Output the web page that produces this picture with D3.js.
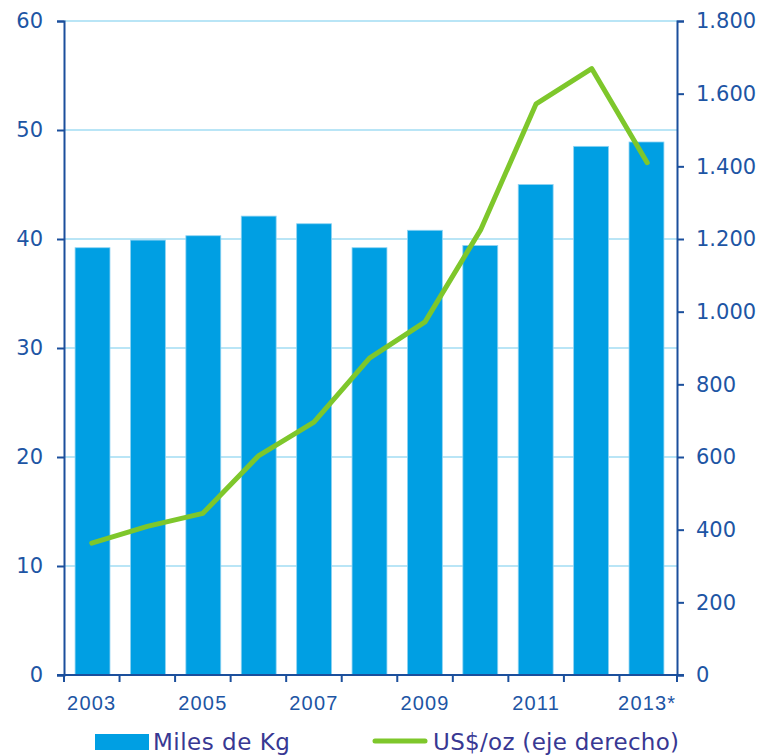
<!DOCTYPE html>
<html>
<head>
<meta charset="utf-8">
<script src="https://cdn.jsdelivr.net/npm/d3@7"></script>
<style>
  html, body { margin: 0; padding: 0; background: #fff; }
  svg { display: block; }
</style>
</head>
<body>
<svg id="chart" width="767" height="756"></svg>
<script>
// Years shown on the x axis (2013 is an estimate)
const years = ["2003", "2004", "2005", "2006", "2007", "2008", "2009", "2010", "2011", "2012", "2013*"];
const yearLabels = ["2003", "2005", "2007", "2009", "2011", "2013*"];
// Production, thousands of kg (left axis)
const production = [39.2, 39.9, 40.3, 42.1, 41.4, 39.2, 40.8, 39.4, 45.0, 48.5, 48.9];
// Price, US$ per ounce (right axis)
const price = [363, 409, 445, 603, 696, 872, 972, 1225, 1572, 1669, 1410];
const leftTicks = [0, 10, 20, 30, 40, 50, 60];
const rightTicks = [0, 200, 400, 600, 800, 1000, 1200, 1400, 1600, 1800];

const svg = d3.select("#chart");
const margin = { left: 64, right: 90, top: 21, bottom: 81 };
const W = 767, H = 756;
const x0 = margin.left, x1 = W - margin.right, yTop = margin.top, yBot = H - margin.bottom;

const axisColor = "#1b4f9c";
const textColor = "#1d55a4";
const barColor = "#009fe3";
const lineColor = "#7ec72b";
const gridColor = "#b9e5f6";

const x = d3.scaleBand().domain(years).range([x0, x1 - 2]).paddingInner(0.37).paddingOuter(0.2);
const xb = d3.scaleBand().domain(years).range([x0, x1 - 2]);
const yL = d3.scaleLinear().domain([0, 60]).range([yBot, yTop]);
const yR = d3.scaleLinear().domain([0, 1800]).range([yBot, yTop]);

const tickFont = "'DejaVu Sans', Verdana, sans-serif";

// horizontal gridlines
svg.append("g").selectAll("line")
  .data(leftTicks.filter(d => d > 0))
  .join("line")
  .attr("x1", x0).attr("x2", x1)
  .attr("y1", d => yL(d)).attr("y2", d => yL(d))
  .attr("stroke", gridColor).attr("stroke-width", 2);

// bars
svg.append("g").selectAll("rect")
  .data(production)
  .join("rect")
  .attr("x", (d, i) => x(years[i]))
  .attr("width", x.bandwidth())
  .attr("y", d => yL(d))
  .attr("height", d => yBot - yL(d))
  .attr("fill", barColor)
  .attr("stroke", "#8fd3f2").attr("stroke-width", 0.8);

// price line
const line = d3.line()
  .x((d, i) => xb(years[i]) + xb.bandwidth() / 2)
  .y(d => yR(d));
svg.append("path")
  .datum(price)
  .attr("d", line)
  .attr("fill", "none")
  .attr("stroke", lineColor)
  .attr("stroke-width", 5)
  .attr("stroke-linejoin", "round")
  .attr("stroke-linecap", "round");

// left axis
const gL = svg.append("g").attr("transform", `translate(${x0},0)`)
  .call(d3.axisLeft(yL).tickValues(leftTicks).tickSize(7).tickPadding(14));
// right axis
const gR = svg.append("g").attr("transform", `translate(${x1},0)`)
  .call(d3.axisRight(yR).tickValues(rightTicks).tickSize(7).tickPadding(12)
    .tickFormat(d => d3.format(",")(d).replace(/,/g, ".")));
// bottom axis: ticks on category boundaries
const gB = svg.append("g").attr("transform", `translate(0,${yBot})`);
gB.append("line").attr("x1", x0 - 7).attr("x2", x1 + 7)
  .attr("stroke", axisColor).attr("stroke-width", 2);
gB.selectAll("line.tk")
  .data(years.concat(["end"]))
  .join("line").attr("class", "tk")
  .attr("x1", (d, i) => i < years.length ? xb(d) : x1)
  .attr("x2", (d, i) => i < years.length ? xb(d) : x1)
  .attr("y1", 0).attr("y2", 7)
  .attr("stroke", axisColor).attr("stroke-width", 2);
gB.selectAll("text")
  .data(yearLabels)
  .join("text")
  .attr("x", d => xb(d) + xb.bandwidth() / 2)
  .attr("y", 35)
  .attr("text-anchor", "middle")
  .attr("fill", textColor)
  .attr("font-family", "'Liberation Sans', Arial, sans-serif")
  .attr("font-size", 20)
  .attr("letter-spacing", 1.2)
  .text(d => d);

[gL, gR].forEach(g => {
  g.select(".domain").attr("stroke", axisColor).attr("stroke-width", 2);
  g.selectAll(".tick line").attr("stroke", axisColor).attr("stroke-width", 2);
  g.selectAll(".tick text").attr("fill", textColor)
    .attr("font-family", tickFont).attr("font-size", 21);
});

// legend
const lg = svg.append("g");
lg.append("rect").attr("x", 95).attr("y", 734).attr("width", 54).attr("height", 16).attr("fill", barColor);
lg.append("text").attr("x", 153).attr("y", 750).attr("fill", "#383893")
  .attr("font-family", tickFont).attr("font-size", 23).attr("letter-spacing", 0.5).text("Miles de Kg");
lg.append("line").attr("x1", 375).attr("x2", 425).attr("y1", 741).attr("y2", 741)
  .attr("stroke", lineColor).attr("stroke-width", 5).attr("stroke-linecap", "round");
lg.append("text").attr("x", 433).attr("y", 750).attr("fill", "#383893")
  .attr("font-family", tickFont).attr("font-size", 23).attr("letter-spacing", 0.3).text("US$/oz (eje derecho)");
</script>
</body>
</html>
